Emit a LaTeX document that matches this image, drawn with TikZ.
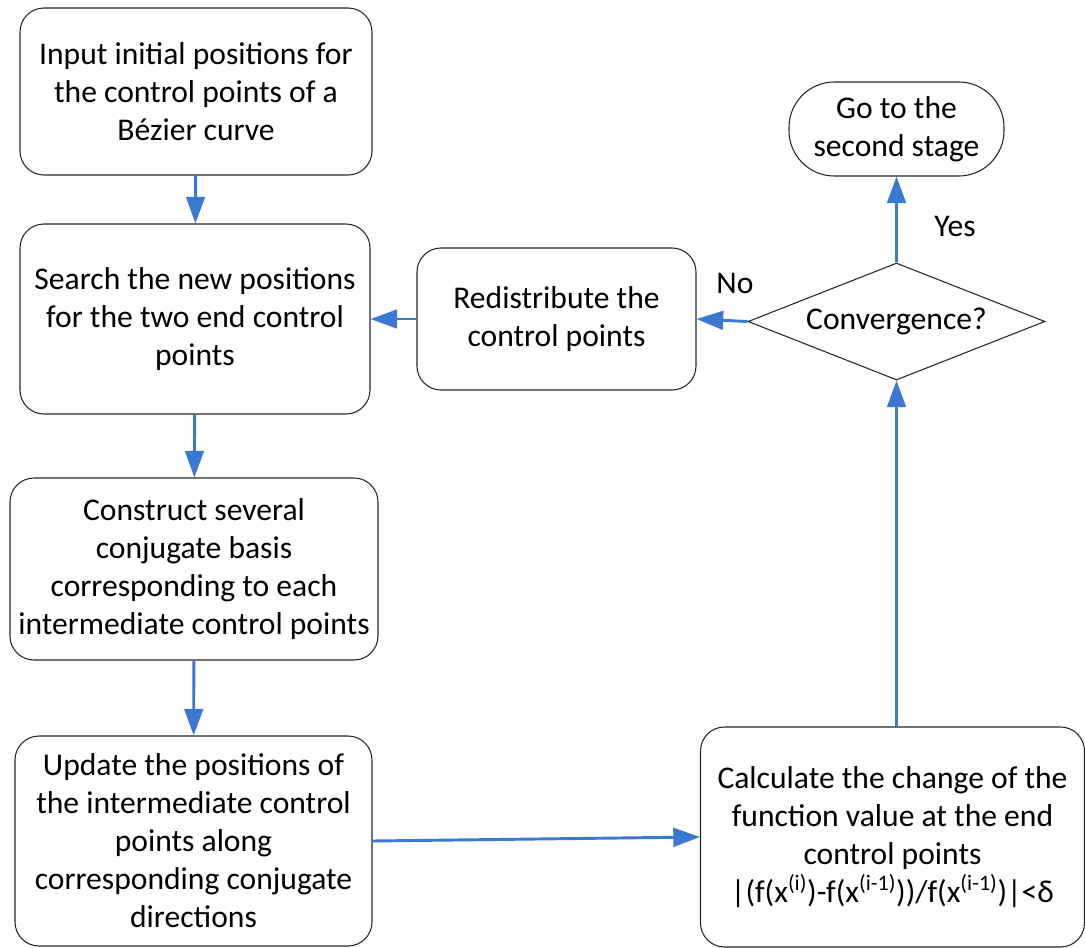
\documentclass[tikz,border=0pt]{standalone}
\usepackage{fontspec}
\setmainfont{Carlito}
\usetikzlibrary{shapes.geometric,arrows.meta}
\definecolor{arrowblue}{RGB}{58,120,210}
\begin{document}
\begin{tikzpicture}[x=0.75pt,y=-0.75pt,
  box/.style={draw=black!85,line width=0.8pt,rounded corners=18pt,align=center,
    inner sep=0pt,font=\fontsize{23.7}{28.5}\selectfont},
  dia/.style={draw=black!85,line width=0.8pt,shape=diamond,shape aspect=2.5,inner sep=0pt,
    font=\fontsize{23.7}{28.5}\selectfont},
  lbl/.style={inner sep=0pt,font=\fontsize{23.7}{28.5}\selectfont},
  arr/.style={draw=arrowblue,line width=2.2pt,-{Triangle[length=20pt,width=14pt]}}]
\useasboundingbox (0,0) rectangle (1085,947);
\node[box,minimum width=352*0.75pt,minimum height=167*0.75pt] (A) at (196,91.5)
  {Input initial positions for\\the control points of a\\Bézier curve};
\node[box,minimum width=350*0.75pt,minimum height=190*0.75pt] (B) at (195,319)
  {Search the new positions\\for the two end control\\points};
\node[box,minimum width=368*0.75pt,minimum height=182*0.75pt] (C) at (194,569)
  {Construct several\\conjugate basis\\corresponding to each\\intermediate control points};
\node[box,minimum width=357*0.75pt,minimum height=210*0.75pt] (D) at (193.5,841)
  {Update the positions of\\the intermediate control\\points along\\corresponding conjugate\\directions};
\node[box,minimum width=384*0.75pt,minimum height=220*0.75pt] (E) at (892.5,837)
  {Calculate the change of the\\function value at the end\\control points\\|(f(x\textsuperscript{(i)})-f(x\textsuperscript{(i-1)}))/f(x\textsuperscript{(i-1)})|<δ};
\node[box,minimum width=279*0.75pt,minimum height=142*0.75pt] (R) at (556.5,319)
  {Redistribute the\\control points};
\node[dia,minimum width=297*0.75pt,minimum height=117*0.75pt] (V) at (896.5,321.5)
  {Convergence?};
\node[box,rounded corners=34pt,minimum width=215*0.75pt,minimum height=94*0.75pt] (G) at (896.5,129)
  {Go to the\\second stage};
\node[lbl] (yes) at (955,226) {Yes};
\node[lbl] (no) at (735,283) {No};
\draw[arr] (A) -- (B);
\draw[arr] (B) -- (C);
\draw[arr] (C) -- (D);
\draw[arr] (D.east) -- (E.west);
\draw[arr] (E.north -| V.south) -- (V.south);
\draw[arr] (V.north) -- (G.south);
\draw[arr] (V.west) -- (R.east);
\draw[arr] (R.west) -- (B.east);
\end{tikzpicture}
\end{document}
